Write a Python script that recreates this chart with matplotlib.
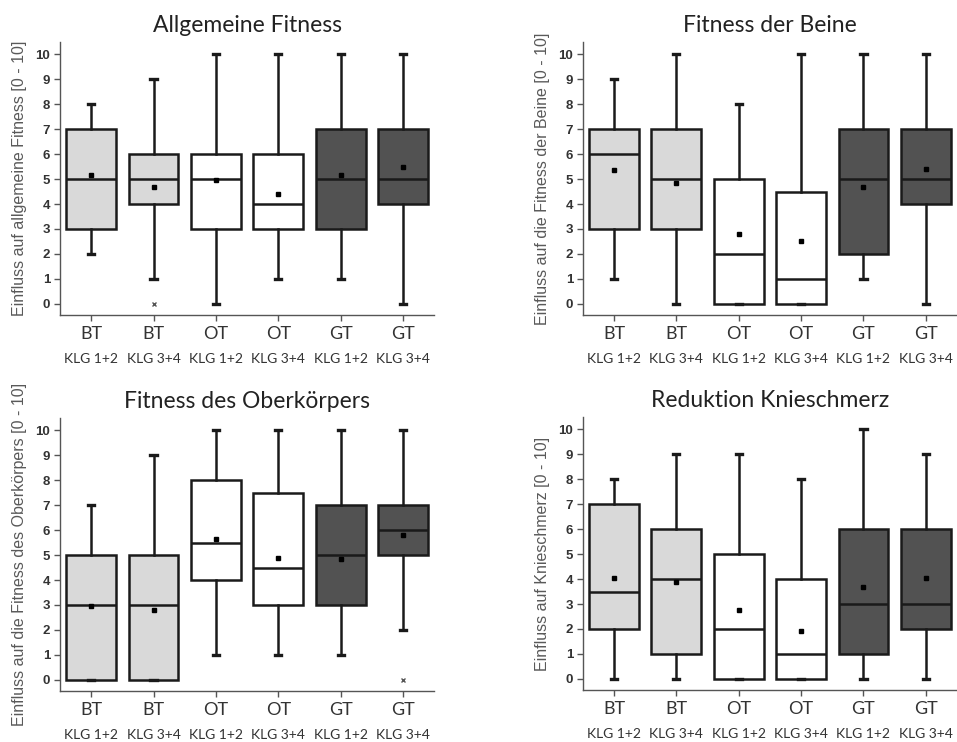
import numpy as np
import matplotlib
matplotlib.use("Agg")
import matplotlib.pyplot as plt
from matplotlib.transforms import blended_transform_factory

groups = ["BT", "BT", "OT", "OT", "GT", "GT"]
klg = ["KLG 1+2", "KLG 3+4", "KLG 1+2", "KLG 3+4", "KLG 1+2", "KLG 3+4"]
fills = ["#d9d9d9", "#d9d9d9", "#ffffff", "#ffffff", "#525252", "#525252"]

titles = ["Allgemeine Fitness", "Fitness der Beine",
          "Fitness des Oberkörpers", "Reduktion Knieschmerz"]
ylabels = ["Einfluss auf allgemeine Fitness [0 - 10]",
           "Einfluss auf die Fitness der Beine [0 - 10]",
           "Einfluss auf die Fitness des Oberkörpers [0 - 10]",
           "Einfluss auf Knieschmerz [0 - 10]"]

# box statistics per panel (6 boxes each)
whislo = [[2, 1, 0, 1, 1, 0],
          [1, 0, 0, 0, 1, 0],
          [0, 0, 1, 1, 1, 2],
          [0, 0, 0, 0, 0, 0]]
q1 = [[3, 4, 3, 3, 3, 4],
      [3, 3, 0, 0, 2, 4],
      [0, 0, 4, 3, 3, 5],
      [2, 1, 0, 0, 1, 2]]
med = [[5, 5, 5, 4, 5, 5],
       [6, 5, 2, 1, 5, 5],
       [3, 3, 5.5, 4.5, 5, 6],
       [3.5, 4, 2, 1, 3, 3]]
q3 = [[7, 6, 6, 6, 7, 7],
      [7, 7, 5, 4.5, 7, 7],
      [5, 5, 8, 7.5, 7, 7],
      [7, 6, 5, 4, 6, 6]]
whishi = [[8, 9, 10, 10, 10, 10],
          [9, 10, 8, 10, 10, 10],
          [7, 9, 10, 10, 10, 10],
          [8, 9, 9, 8, 10, 9]]
means = [[5.15, 4.7, 4.95, 4.4, 5.15, 5.5],
         [5.35, 4.85, 2.8, 2.5, 4.7, 5.4],
         [2.95, 2.8, 5.65, 4.9, 4.85, 5.8],
         [4.05, 3.9, 2.75, 1.9, 3.7, 4.05]]
outliers = [[[], [0], [], [], [], []],
            [[], [], [], [], [], []],
            [[], [], [], [], [], [0]],
            [[], [], [], [], [], []]]

fig = plt.figure(figsize=(9.57, 7.42), dpi=100)
positions = [[0.0627, 0.5755], [0.609, 0.5755], [0.0627, 0.0687], [0.609, 0.0700]]
label_font = "Lato"
x = np.arange(6)

for p in range(4):
    ax = fig.add_axes([positions[p][0], positions[p][1], 0.391, 0.368])
    stats = []
    for i in range(6):
        stats.append(dict(whislo=whislo[p][i], q1=q1[p][i], med=med[p][i],
                          q3=q3[p][i], whishi=whishi[p][i], mean=means[p][i],
                          fliers=outliers[p][i]))
    bp = ax.bxp(stats, positions=x, widths=0.8, patch_artist=True,
                showmeans=True, capwidths=0.1,
                boxprops=dict(edgecolor="#1a1a1a", linewidth=1.8),
                medianprops=dict(color="#1a1a1a", linewidth=1.8),
                whiskerprops=dict(color="#1a1a1a", linewidth=1.8),
                capprops=dict(color="#1a1a1a", linewidth=2.4),
                meanprops=dict(marker="s", markerfacecolor="black",
                               markeredgecolor="black", markersize=3.5),
                flierprops=dict(marker="x", markeredgecolor="#555555",
                                markersize=3.5, markeredgewidth=1))
    for patch, c in zip(bp["boxes"], fills):
        patch.set_facecolor(c)

    ax.set_xlim(-0.5, 5.5)
    ax.set_ylim(-0.45, 10.5)
    ax.set_yticks(range(11))
    ax.set_yticklabels([str(v) for v in range(11)], fontfamily="Liberation Sans",
                       fontweight="bold", fontsize=9.5, color="#333333")
    ax.set_xticks(x)
    ax.set_xticklabels(groups, fontfamily=label_font, fontsize=13, color="#333333")
    ax.tick_params(axis="x", length=4, width=1, color="#555555", pad=4)
    ax.tick_params(axis="y", length=4, width=1, color="#555555", pad=3)
    for s in ["top", "right"]:
        ax.spines[s].set_visible(False)
    for s in ["left", "bottom"]:
        ax.spines[s].set_color("#555555")
        ax.spines[s].set_linewidth(1)

    trans = blended_transform_factory(ax.transData, ax.transAxes)
    for i in range(6):
        ax.text(x[i], -0.16, klg[i], transform=trans, ha="center", va="center",
                fontfamily=label_font, fontsize=10, color="#333333")

    ax.set_title(titles[p], fontfamily=label_font, fontsize=16.5, color="#222222", pad=7)
    ax.set_ylabel(ylabels[p], fontfamily="Liberation Sans", fontsize=11.5,
                  color="#595959", labelpad=6)

fig.savefig("out.png", dpi=100)
